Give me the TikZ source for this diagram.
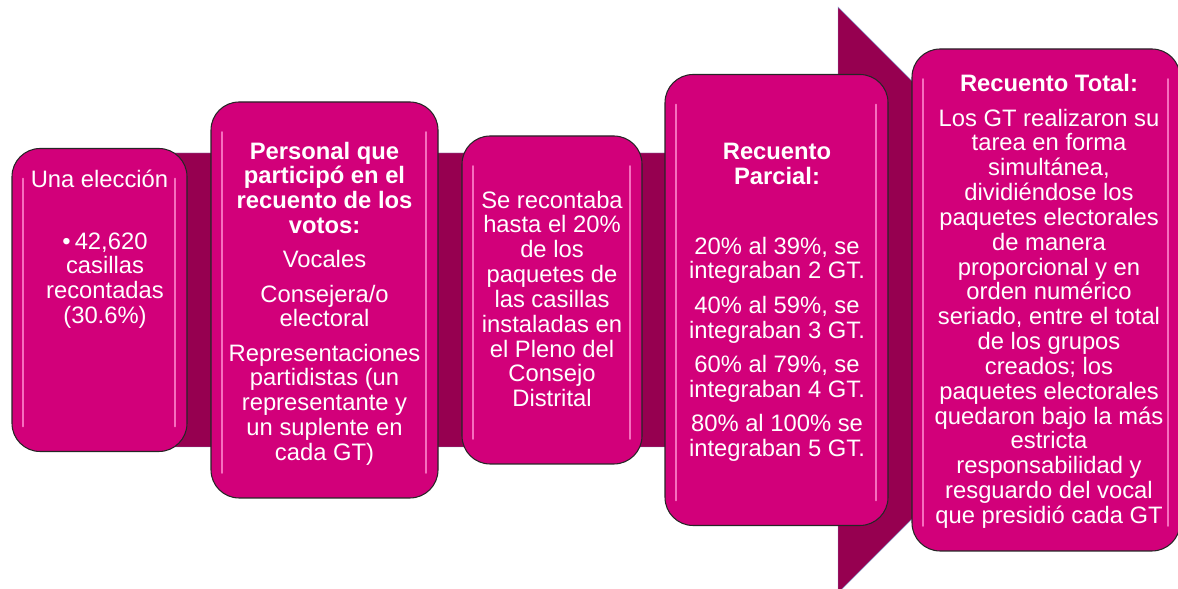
\documentclass[tikz,border=0pt]{standalone}
\usepackage{fontspec}
\setmainfont{Liberation Sans}
\usetikzlibrary{positioning,calc}
\definecolor{cardfill}{HTML}{D2007A}
\definecolor{arrowfill}{HTML}{960050}
\definecolor{glosspink}{HTML}{FF8AD0}
\definecolor{bandedge}{HTML}{8EA4D2}

\begin{document}
\begin{tikzpicture}[
  card/.style={rectangle, rounded corners=24pt, draw=black!85, line width=0.9pt, fill=cardfill,
    path picture={
      \draw[glosspink, line width=1.6pt, line cap=round, opacity=0.8]
        ($(path picture bounding box.north west)+(0.33,-0.9)$) -- ($(path picture bounding box.south west)+(0.33,0.75)$)
        ($(path picture bounding box.north east)+(-0.36,-0.9)$) -- ($(path picture bounding box.south east)+(-0.36,0.75)$);
    }},
  txt/.style={anchor=north, align=center, text=white, inner sep=0pt, font=\fontsize{20.3}{21.2}\selectfont,
    execute at begin node=\rule{0pt}{16pt}}
]
  \useasboundingbox (0,0) rectangle (35.34,17.64);
  \clip (0,0) rectangle (35.34,17.64);

  % background arrow
  \fill[arrowfill, draw=bandedge, line width=0.4pt]
    (1.2,13.05) -- (25.14,13.05) -- (25.14,17.43) -- (33.93,8.64)
    -- (25.14,-0.15) -- (25.14,4.23) -- (1.2,4.23) -- cycle;

  % cards
  \node[card, minimum width=5.25cm, minimum height=9.09cm]  (eleccion)  at (2.985,8.64) {};
  \node[card, minimum width=6.81cm, minimum height=11.88cm] (personal)  at (9.735,8.64) {};
  \node[card, minimum width=5.4cm,  minimum height=9.84cm]  (recontaba) at (16.56,8.64) {};
  \node[card, minimum width=6.69cm, minimum height=13.53cm] (parcial)   at (23.295,8.64) {};
  \node[card, minimum width=8.04cm, minimum height=15.06cm] (total)     at (31.38,8.64) {};

  % texts
  \node[txt] (eleccion-t) at (2.985,12.595) {Una elección};
  \node[txt] (casillas-t) at (3.15,10.675) {\textbullet\,42,620\\casillas\\recontadas\\(30.6\%)};
  \node[txt] (personal-t) at (9.735,13.39) {\textbf{Personal que}\\\textbf{participó en el}\\\textbf{recuento de los}\\\textbf{votos:}\\[8pt]
    Vocales\\[8pt]Consejera/o\\electoral\\[8pt]Representaciones\\partidistas (un\\representante y\\un suplente en\\cada GT)};
  \node[txt] (recontaba-t) at (16.56,11.92) {Se recontaba\\hasta el 20\%\\de los\\paquetes de\\las casillas\\instaladas en\\el Pleno del\\Consejo\\Distrital};
  \node[txt] (parcial-t) at (23.31,13.34) {\textbf{Recuento}\\\textbf{Parcial:}\\[38pt]
    20\% al 39\%, se\\integraban 2 GT.\\[8pt]40\% al 59\%, se\\integraban 3 GT.\\[8pt]60\% al 79\%, se\\integraban 4 GT.\\[8pt]80\% al 100\% se\\integraban 5 GT.};
  \node[txt] (total-t) at (31.47,15.41) {\textbf{Recuento Total:}\\[8pt]
    Los GT realizaron su\\tarea en forma\\simultánea,\\dividiéndose los\\paquetes electorales\\de manera\\proporcional y en\\orden numérico\\seriado, entre el total\\de los grupos\\creados; los\\paquetes electorales\\quedaron bajo la más\\estricta\\responsabilidad y\\resguardo del vocal\\que presidió cada GT};
\end{tikzpicture}
\end{document}
